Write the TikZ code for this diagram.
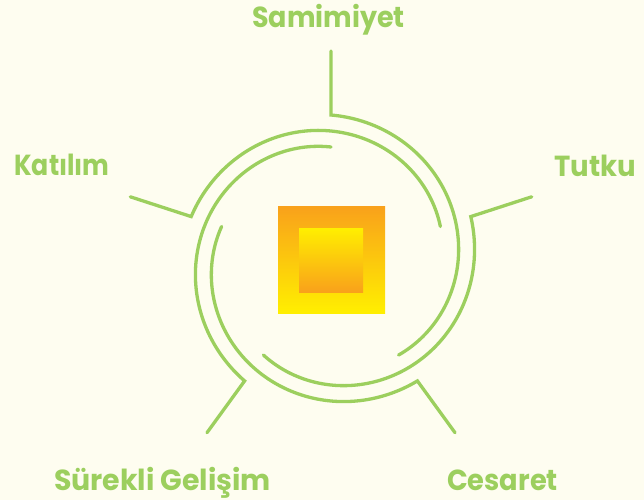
\documentclass[tikz,border=0pt]{standalone}
\usepackage{fontspec}
\usepackage{graphicx}
\setmainfont{Poppins}
\definecolor{bg}{RGB}{254,253,240}
\definecolor{lgreen}{RGB}{156,207,94}
\definecolor{orng}{RGB}{249,161,27}
\definecolor{yllw}{RGB}{255,239,0}
\begin{document}
\begin{tikzpicture}[x=1pt,y=-1pt,
  spiral/.style={draw=lgreen, line width=3.3pt, line cap=round, line join=miter},
  lbl/.style={text=lgreen, font=\bfseries\fontsize{29}{29}\selectfont, anchor=base, inner sep=0pt},
  sq/.style={inner sep=0pt, outer sep=0pt, draw=none}]
\fill[bg] (0,0) rectangle (644,500);
\useasboundingbox (0,0) rectangle (644,500);
\def\cx{331}\def\cy{262}
\foreach \n/\a in {sam/90, tut/18, kat/162, sur/234, ces/306} {
  \coordinate (\n o) at ({\cx+211*cos(\a)},{\cy-211*sin(\a)});
  \coordinate (\n j) at ({\cx+147*cos(\a)},{\cy-147*sin(\a)});
  \draw[spiral] (\n o) -- (\n j) -- plot[domain=0:144,samples=90] ({\cx+(147-32*\x/144)*cos(\a-\x)},{\cy-(147-32*\x/144)*sin(\a-\x)});
}
\node[sq, minimum size=107pt, top color=orng, bottom color=yllw] (outersq) at (331.5,259.5) {};
\node[sq, minimum size=64pt, top color=yllw, bottom color=orng] (innersq) at (331,260) {};
\node[lbl] (samimiyet) at (328.5,27.3) {\scalebox{0.93}[1]{Samimiyet}};
\node[lbl] (tutku) at (595,176) {\scalebox{0.95}[1]{Tutku}};
\node[lbl] (katilim) at (62,175) {\scalebox{0.87}[1]{Katılım}};
\node[lbl] (surekli) at (162.5,490.7) {\scalebox{0.98}[1]{Sürekli Gelişim}};
\node[lbl] (cesaret) at (502.5,490.7) {\scalebox{0.94}[1]{Cesaret}};
\end{tikzpicture}
\end{document}
